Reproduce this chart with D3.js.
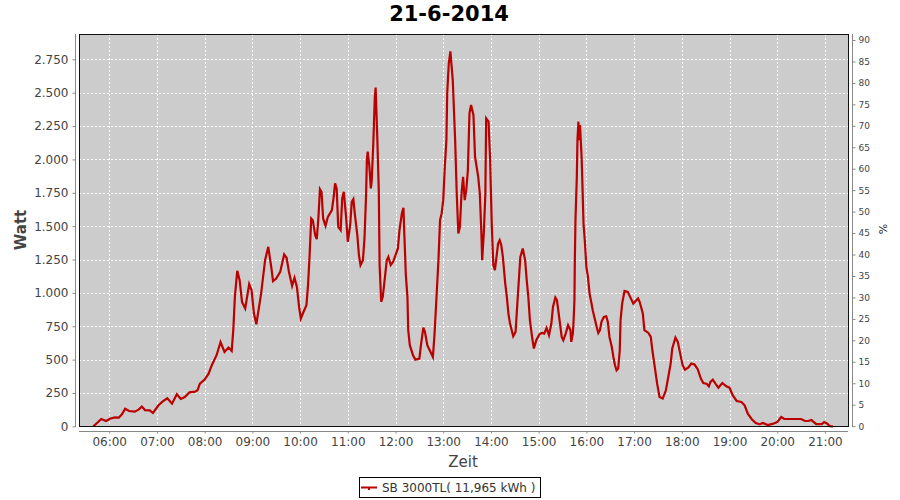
<!DOCTYPE html>
<html><head><meta charset="utf-8">
<script src="https://cdn.jsdelivr.net/npm/d3@7"></script>
<style>body{margin:0;background:#fff} text{font-family:"DejaVu Sans",sans-serif}</style>
</head><body>
<svg id="c" width="900" height="500"></svg>
<script>
const chartTitle = "21-6-2014";
const seriesName = "SB 3000TL( 11,965 kWh )";
const xTitle = "Zeit", yTitle = "Watt", y2Title = "%";
// minutes after midnight
const times = [340,346,350,356,361,367,372,376,380,385,392,397,401,405,411,415,422,427,433,439,445,450,455,461,468,471,474,480,485,489,495,500,505,510,514,516,518,521,524,527,531,536,539,542,545,551,556,560,564,566,570,575,580,583,586,590,593,596,599,601,604,608,610,612,614,616,619,621,623,625,627,629,632,635,640,642,644,646,648,651,653,655,658,660,663,665,667,669,672,674,676,679,681,683,684,685,687,689,690,692,694,695,697,699,700,702,704,707,709,711,714,717,720,723,725,728,730,731,733,735,736,738,742,745,750,752,755,757,760,763,767,769,772,774,776,778,780,782,784,785,787,789,792,795,797,799,801,803,805,807,809,811,813,815,818,820,822,824,826,828,829,831,833,834,837,839,841,843,845,847,849,851,853,855,858,860,862,864,868,871,874,877,880,883,885,887,889,892,894,897,901,904,907,910,913,916,918,921,923,926,929,931,934,937,940,941,943,944,945,945.5,946.3,948,948.8,950,951,952,954,955,956.4,958,960,962,964,966.5,968,971,973,975,977,979,982,985,987,989,992,994,996,998,1000,1002,1003,1005,1008,1012,1015,1019,1025,1027,1031,1033,1038,1041,1043,1046,1049,1052,1056,1060,1063,1066,1068,1072,1075,1078,1081,1084,1088,1092,1096,1100,1104,1107,1111,1114,1116,1119,1123,1126,1131,1136,1140,1144,1149,1155,1159,1163,1168,1173,1178,1182,1188,1195,1200,1205,1209,1220,1230,1235,1239,1243,1249,1256,1259,1263,1266,1270];
const watts = [0,32,55,40,57,67,65,90,132,115,110,125,148,122,120,100,158,185,210,170,240,205,220,255,260,270,320,350,395,458,533,632,557,590,565,720,970,1165,1095,932,883,1065,1020,845,765,995,1245,1345,1183,1088,1108,1157,1288,1263,1158,1053,1113,1045,883,808,853,908,1058,1283,1558,1545,1433,1403,1558,1778,1758,1558,1503,1570,1620,1708,1820,1783,1495,1470,1708,1758,1558,1383,1508,1683,1703,1583,1433,1283,1208,1245,1408,1733,1995,2058,1958,1783,1833,2108,2470,2538,2183,1758,1208,933,970,1133,1245,1270,1208,1233,1283,1333,1470,1595,1638,1458,1133,970,720,608,533,500,508,608,740,708,608,570,520,683,1020,1245,1545,1595,1695,1945,2145,2495,2720,2810,2595,2145,1745,1445,1495,1745,1870,1695,1770,1920,2345,2408,2333,2020,1945,1870,1745,1445,1245,1445,1745,2308,2283,1995,1520,1208,1170,1270,1370,1395,1358,1270,1070,970,845,770,675,708,995,1270,1333,1245,1095,970,795,658,583,645,690,700,695,738,683,770,895,965,945,808,670,645,695,758,720,633,695,800,945,1245,1545,1870,2145,2283,2145,2258,2020,1820,1520,1395,1195,1120,995,920,870,795,745,700,720,783,820,825,783,670,595,520,458,420,433,570,795,920,1015,1008,970,920,958,933,845,720,700,670,570,445,320,220,208,270,370,470,583,665,633,545,458,425,440,470,463,428,358,325,320,300,333,350,315,290,325,300,290,233,190,183,158,95,53,25,15,25,10,20,32,70,55,55,55,40,40,47,17,17,32,20,2,0];
const hourTicks = [360,420,480,540,600,660,720,780,840,900,960,1020,1080,1140,1200,1260];
const hourLabels = ["06:00","07:00","08:00","09:00","10:00","11:00","12:00","13:00","14:00","15:00","16:00","17:00","18:00","19:00","20:00","21:00"];
const wattTicks = [0,250,500,750,1000,1250,1500,1750,2000,2250,2500,2750];
const pctTicks = [0,5,10,15,20,25,30,35,40,45,50,55,60,65,70,75,80,85,90];

const svg = d3.select("#c");
const L = 79, R = 848, T = 34, B = 427;
const x = d3.scaleLinear().domain([322, 1289]).range([L, R]);
const y = d3.scaleLinear().domain([-5, 2940]).range([B, T]);
const yr = d3.scaleLinear().domain([-0.2, 91.4]).range([B, T]);
const de = d3.formatLocale({decimal: ",", thousands: ".", grouping: [3], currency: ["", ""]});
const fmt = de.format(",d");
const red = "#bb0000";

svg.append("rect").attr("x", L).attr("y", T).attr("width", R - L).attr("height", B - T).attr("fill", "#cccccc");

const grid = svg.append("g").attr("stroke", "#fff").attr("stroke-width", 1).attr("stroke-dasharray", "2,2").attr("shape-rendering", "crispEdges");
grid.selectAll(".v").data(hourTicks).join("line")
  .attr("x1", d => Math.round(x(d)) + 0.5).attr("x2", d => Math.round(x(d)) + 0.5)
  .attr("y1", T).attr("y2", B);
grid.selectAll(".h").data(wattTicks).join("line")
  .attr("y1", d => Math.round(y(d)) + 0.5).attr("y2", d => Math.round(y(d)) + 0.5)
  .attr("x1", L).attr("x2", R);

const pts = times.map((t, i) => [t, watts[i]]);
svg.append("path").datum(pts)
  .attr("fill", "none").attr("stroke", red).attr("stroke-width", 2.2).attr("stroke-linejoin", "miter")
  .attr("d", d3.line().x(d => x(d[0])).y(d => y(d[1])));

svg.append("rect").attr("x", L + 0.5).attr("y", T + 0.5).attr("width", R - L).attr("height", B - T - 1)
  .attr("fill", "none").attr("stroke", "#111").attr("stroke-width", 1);

function styleAxis(g, size) {
  g.select(".domain").attr("stroke", "#888");
  g.selectAll(".tick line").attr("stroke", "#888");
  g.selectAll("text").attr("fill", "#444").style("font-size", size + "px").style("font-family", "'DejaVu Sans',sans-serif");
}
const gl = svg.append("g").attr("transform", "translate(75.5,0)")
  .call(d3.axisLeft(y).tickValues(wattTicks).tickFormat(fmt).tickSize(3).tickSizeOuter(0).tickPadding(4));
gl.select(".domain").attr("d", `M0,${T}V${B}`);
styleAxis(gl, 12);

const gb = svg.append("g").attr("transform", "translate(0,431.5)")
  .call(d3.axisBottom(x).tickValues(hourTicks).tickFormat((d, i) => hourLabels[i]).tickSize(2).tickSizeOuter(0).tickPadding(4));
gb.select(".domain").attr("d", `M${L},0H${R}`);
styleAxis(gb, 12);

const gr = svg.append("g").attr("transform", "translate(852.5,0)")
  .call(d3.axisRight(yr).tickValues(pctTicks).tickSize(3).tickSizeOuter(0).tickPadding(3));
gr.select(".domain").attr("d", `M0,${T}V${B}`);
styleAxis(gr, 9);

svg.append("text").attr("x", 449).attr("y", 21).attr("text-anchor", "middle")
  .style("font-size", "21px").style("font-weight", "bold").attr("fill", "#000").text(chartTitle);
svg.append("text").attr("transform", "translate(26,230) rotate(-90)").attr("text-anchor", "middle")
  .style("font-size", "15px").style("font-weight", "bold").attr("fill", "#444").text(yTitle);
svg.append("text").attr("x", 463).attr("y", 467).attr("text-anchor", "middle")
  .style("font-size", "15px").attr("fill", "#444").text(xTitle);
svg.append("text").attr("transform", "translate(887,229) rotate(-90)").attr("text-anchor", "middle")
  .style("font-size", "11px").attr("fill", "#222").text(y2Title);

const lg = svg.append("g");
lg.append("rect").attr("x", 359.5).attr("y", 477.5).attr("width", 181).attr("height", 20)
  .attr("fill", "#fff").attr("stroke", "#000");
lg.append("line").attr("x1", 361).attr("x2", 377).attr("y1", 487.5).attr("y2", 487.5).attr("stroke", red).attr("stroke-width", 2);
lg.append("rect").attr("x", 368).attr("y", 487).attr("width", 2).attr("height", 3).attr("fill", red);
lg.append("text").attr("x", 382).attr("y", 492).style("font-size", "12px").attr("fill", "#333").text(seriesName);
</script>
</body></html>
